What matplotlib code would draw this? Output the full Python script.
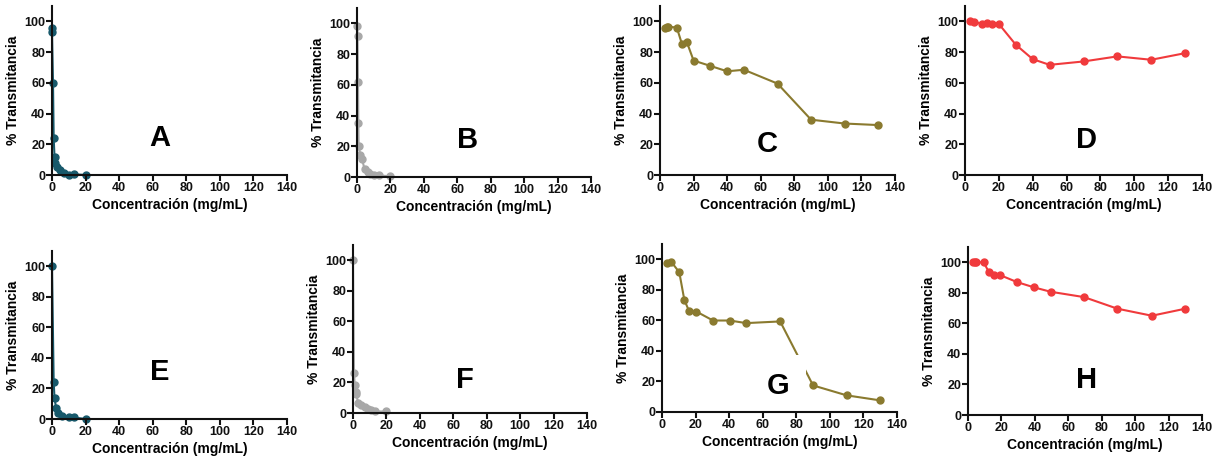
import numpy as np
import matplotlib.pyplot as plt

plt.rcParams['font.family'] = ['Liberation Sans', 'DejaVu Sans']
plt.rcParams['font.weight'] = 'bold'

# concentraciones (mg/mL) y % transmitancia de cada panel
xA = [0, 0, 0.6, 1, 1.5, 2, 3, 4.5, 7, 10, 13, 20]
yA = [96, 93, 60, 24, 12, 8, 5, 3, 1, 0.3, 0.5, 0]

xB = [0.2, 0.3, 0.6, 0.8, 1, 2, 3, 4.5, 6.5, 8, 10, 13, 20]
yB = [98, 92, 62, 35, 20, 14, 12, 5, 3, 2, 1, 1, 0.5]

xC = [3, 4, 5, 10, 13, 16, 20, 30, 40, 50, 70, 90, 110, 130]
yC = [96, 96.5, 96.5, 96, 85.5, 86.5, 74.5, 71, 67.5, 68.5, 59.5, 36, 33.5, 32.5]

xD = [3, 5.5, 10, 13, 16, 20, 30, 40, 50, 70, 90, 110, 130]
yD = [100, 99.5, 98.5, 99, 98.3, 98.3, 84.8, 75.4, 71.7, 73.9, 77.2, 75, 79.3]

xE = [0, 1, 1.5, 2.5, 3.5, 6, 10, 13, 20]
yE = [100, 24.3, 13.5, 7, 3.7, 2.2, 1.5, 1, 0]

xF = [0, 0.6, 1, 1.6, 2, 3, 5, 7, 9, 11, 13, 20]
yF = [100, 26.5, 18.5, 14, 12.6, 6.5, 5, 3.7, 2.6, 1.7, 1, 1]

xG = [3, 5.4, 10.3, 13.3, 16, 20.4, 30.4, 40.3, 50.2, 70.4, 90, 110, 130]
yG = [97.8, 98.5, 91.5, 73.4, 66.4, 65.8, 59.9, 59.9, 58.2, 59.3, 17.4, 10.9, 7.6]

xH = [3, 4, 5, 9.4, 12.4, 15.4, 19.4, 29.4, 39.4, 49.4, 69.4, 89.4, 110, 130]
yH = [100, 100, 100, 100, 93.7, 91.5, 91.5, 87, 83.6, 80.7, 77.2, 69.6, 65, 69.6]

teal = '#17596b'
gris = '#a8a8a8'
oliva = '#8a7a2f'
rojo = '#f03a3c'

paneles = [
    ('A', xA, yA, teal, [52, 175, 287, 6], (64, 24)),
    ('B', xB, yB, gris, [357, 177, 591, 8], (66, 24)),
    ('C', xC, yC, oliva, [660, 175, 895, 6], (64, 20)),
    ('D', xD, yD, rojo, [965, 175, 1202, 6], (72, 23)),
    ('E', xE, yE, teal, [52, 419, 287, 251], (64, 31)),
    ('F', xF, yF, gris, [353, 413, 587, 245], (67, 21.5)),
    ('G', xG, yG, oliva, [662, 412, 897, 244], (69, 17)),
    ('H', xH, yH, rojo, [968, 415, 1202, 247], (71, 23)),
]

W, H = 1220, 462
fig = plt.figure(figsize=(W / 100, H / 100), dpi=100)

for letra, x, y, c, (x0, yb, x1, yt), (lx, ly) in paneles:
    ax = fig.add_axes([x0 / W, 1 - yb / H, (x1 - x0) / W, (yb - yt) / H])
    ax.set_axisbelow(False)
    ax.plot(x, y, '-', color=c, lw=1.5, marker='o', ms=5, clip_on=False, zorder=2)
    ax.set_xlim(0, 140)
    ax.set_ylim(0, 110)
    ax.set_xticks(np.arange(0, 141, 20))
    ax.set_yticks(np.arange(0, 101, 20))
    for s in ['top', 'right']:
        ax.spines[s].set_visible(False)
    for s in ['left', 'bottom']:
        ax.spines[s].set_linewidth(1.5)
        ax.spines[s].set_color('#111111')
    ax.tick_params(width=1.5, length=4, labelsize=9, pad=1, colors='#111111')
    ax.set_xlabel('Concentración (mg/mL)', fontsize=10, fontweight='bold', labelpad=3)
    ax.set_ylabel('% Transmitancia', fontsize=10, fontweight='bold', labelpad=3)
    if letra == 'G':
        ax.text(lx, ly, letra, fontsize=21, fontweight='bold', ha='center', va='center',
                bbox=dict(facecolor='white', edgecolor='none', pad=12), zorder=2.2)
    else:
        ax.text(lx, ly, letra, fontsize=21, fontweight='bold', ha='center', va='center')

fig.savefig('out.png', dpi=100)
